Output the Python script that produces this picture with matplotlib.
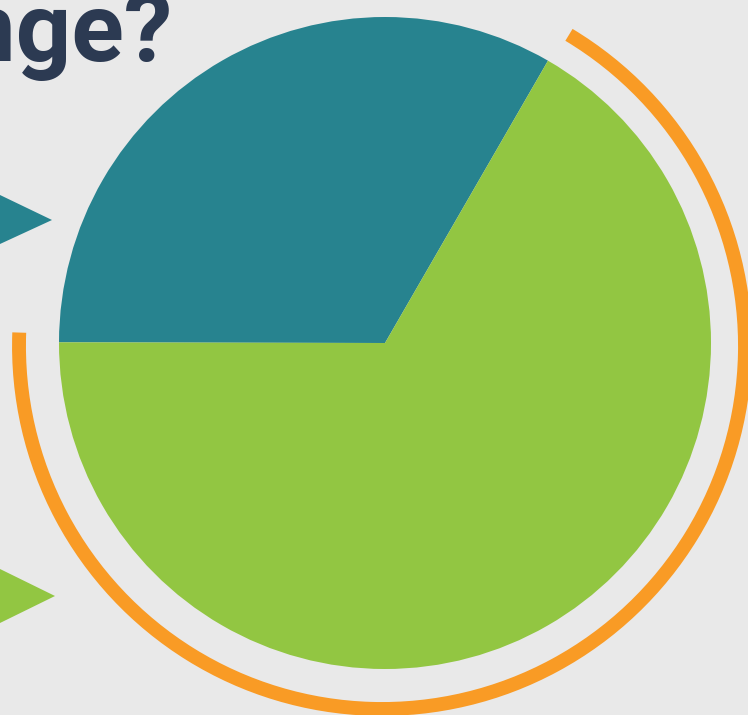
import matplotlib.pyplot as plt
import matplotlib.patches as mpatches

# pie shares (teal, green)
labels = ['Teal', 'Green']
shares = [33.3, 66.7]
colors = ['#27838f', '#92c642']
title_text = 'change?'

W, H = 748, 715
bg = '#e9e9e9'

fig = plt.figure(figsize=(W / 100, H / 100), dpi=100, facecolor=bg)
ax = fig.add_axes([0, 0, 1, 1])

cx, cy, r = 385, H - 343, 326
ax.pie(shares, colors=colors, startangle=60, counterclock=True,
       center=(cx, cy), radius=r, frame=True,
       wedgeprops=dict(linewidth=0))
ax.set_xlim(0, W)
ax.set_ylim(0, H)
ax.set_aspect('equal')
ax.axis('off')

# orange arc around the green share
start = 60 + 360 * shares[0] / 100 - 2
arc = mpatches.Arc((382, H - 346), 2 * 363, 2 * 363, theta1=start, theta2=59 + 360,
                   color='#f99b25', lw=10, capstyle='butt')
ax.add_patch(arc)

# side markers
ax.add_patch(mpatches.Polygon([(0, H - 195), (52, H - 220), (0, H - 244)],
                              closed=True, color=colors[0], lw=0))
ax.add_patch(mpatches.Polygon([(0, H - 569), (55, H - 596), (0, H - 623)],
                              closed=True, color=colors[1], lw=0))

ax.text(173, H - 61, title_text, ha='right', va='baseline', fontsize=70,
        fontweight='bold', family='Roboto', color='#2c3a52')

fig.savefig('out.png', dpi=100, facecolor=bg)
